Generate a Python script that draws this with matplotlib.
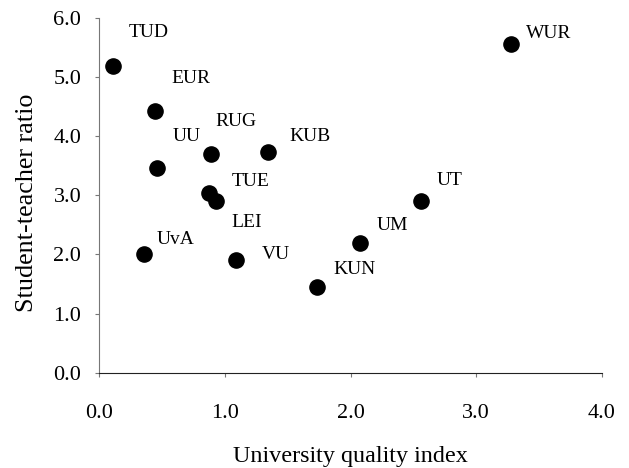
import matplotlib.pyplot as plt

# University quality vs student-teacher ratio
names = ["TUD", "EUR", "UU", "RUG", "KUB", "TUE", "LEI", "UvA", "VU", "KUN", "UM", "UT", "WUR"]
quality = [0.11, 0.44, 0.455, 0.885, 1.344, 0.874, 0.928, 0.354, 1.087, 1.729, 2.074, 2.557, 3.28]
ratio = [5.19, 4.42, 3.46, 3.70, 3.74, 3.035, 2.91, 2.01, 1.907, 1.445, 2.19, 2.91, 5.556]

# label offsets in pixels (dx, dy up)
offsets = {
    "TUD": (15, 33), "EUR": (17, 33), "UU": (16, 32), "RUG": (5, 32),
    "KUB": (21, 15), "TUE": (22, 12), "LEI": (15, -22), "UvA": (13, 14),
    "VU": (26, 5), "KUN": (17, 18), "UM": (17, 18), "UT": (16, 20), "WUR": (14, 11),
}

plt.rcParams["font.family"] = ["Liberation Serif", "DejaVu Serif"]

fig = plt.figure(figsize=(6.29, 4.68), dpi=100)
ax = fig.add_axes([0.158, 0.2036, 0.799, 0.758])

ax.scatter(quality, ratio, s=120, color="black", zorder=3)

for n, x, y in zip(names, quality, ratio):
    dx, dy = offsets[n]
    ax.annotate(n, (x, y), xytext=(dx * 0.72, dy * 0.72), textcoords="offset points",
                ha="left", va="center", fontsize=14)

ax.set_xlim(0, 4)
ax.set_ylim(0, 6)
ax.set_xticks([0, 1, 2, 3, 4])
ax.set_yticks([0, 1, 2, 3, 4, 5, 6])
ax.set_xticklabels(["0.0", "1.0", "2.0", "3.0", "4.0"])
ax.set_yticklabels(["0.0", "1.0", "2.0", "3.0", "4.0", "5.0", "6.0"])
ax.tick_params(axis="both", labelsize=16, length=3, color="#777777")
ax.tick_params(axis="x", pad=19.5)
ax.tick_params(axis="y", pad=10)

for side in ["top", "right"]:
    ax.spines[side].set_visible(False)
ax.spines["left"].set_color("#777777")
ax.spines["bottom"].set_color("#222222")

ax.set_xlabel("University quality index", fontsize=17.4)
ax.set_ylabel("Student-teacher ratio", fontsize=18.8)
ax.xaxis.set_label_coords(0.5, -0.207)
ax.yaxis.set_label_coords(-0.122, 0.478)

plt.savefig("out.png", dpi=100)
